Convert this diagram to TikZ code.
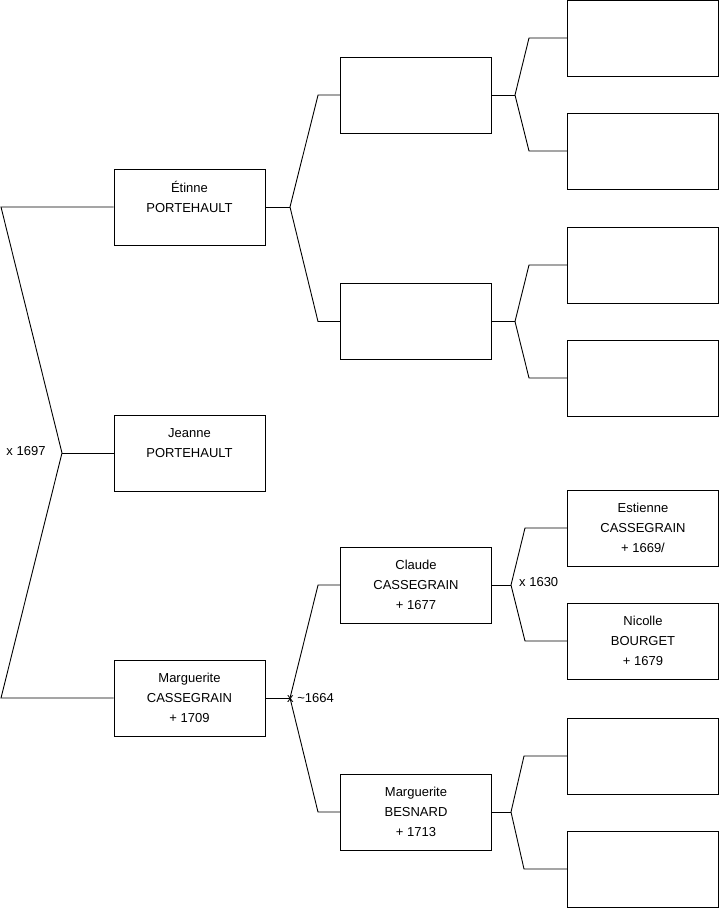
\documentclass[tikz,border=0pt]{standalone}
\usepackage{fontspec}
\setmainfont{Liberation Sans}

\begin{document}
\begin{tikzpicture}[
    x=1pt, y=-1pt,
    person/.style={draw, line width=0.9pt, minimum width=151pt, minimum height=76pt, inner sep=0pt, align=center, font=\fontsize{13}{20}\selectfont},
    edge/.style={line width=0.9pt},
    marriage/.style={font=\fontsize{13}{14}\selectfont, inner sep=0pt}
]
    \useasboundingbox (0,0) rectangle (719,908);

    % First generation
    \node[person] (etinne) at (189.5,207) {Étinne\\PORTEHAULT\\~};
    \node[person] (jeanne) at (189.5,453) {Jeanne\\PORTEHAULT\\~};
    \node[person] (margC) at (189.5,698) {Marguerite\\CASSEGRAIN\\+ 1709};

    % Second generation
    \node[person] (parA) at (416,95) {};
    \node[person] (parB) at (416,321.5) {};
    \node[person] (claude) at (416,585) {Claude\\CASSEGRAIN\\+ 1677};
    \node[person] (margB) at (416,812) {Marguerite\\BESNARD\\+ 1713};

    % Third generation
    \node[person] (g1) at (643,38) {};
    \node[person] (g2) at (643,151) {};
    \node[person] (g3) at (643,265) {};
    \node[person] (g4) at (643,378) {};
    \node[person] (estienne) at (643,528) {Estienne\\CASSEGRAIN\\+ 1669/};
    \node[person] (nicolle) at (643,641) {Nicolle\\BOURGET\\+ 1679};
    \node[person] (g7) at (643,756) {};
    \node[person] (g8) at (643,869) {};

    % Fork points and bends
    \coordinate (f0) at (62,453);
    \coordinate (r1) at (1,207);
    \coordinate (r2) at (1,698);
    \coordinate (f1) at (290,207);
    \coordinate (f2) at (290,698);
    \coordinate (f3) at (515,95);
    \coordinate (f4) at (515,321.5);
    \coordinate (f5) at (511,585);
    \coordinate (f6) at (511,812);

    % Root fork
    \draw[edge] (etinne.west) -- (r1) -- (f0) -- (r2) -- (margC.west);
    \draw[edge] (f0) -- (jeanne.west);

    % Forks towards the second generation
    \draw[edge] (etinne.east) -- (f1);
    \draw[edge] (parA.west) -- ++(-22,0) -- (f1) -- (318,321.5) -- (parB.west);
    \draw[edge] (margC.east) -- (f2);
    \draw[edge] (claude.west) -- ++(-22,0) -- (f2) -- (318,812) -- (margB.west);

    % Forks towards the third generation
    \draw[edge] (parA.east) -- (f3);
    \draw[edge] (g1.west) -- (529,38) -- (f3) -- (529,151) -- (g2.west);
    \draw[edge] (parB.east) -- (f4);
    \draw[edge] (g3.west) -- (529,265) -- (f4) -- (529,378) -- (g4.west);
    \draw[edge] (claude.east) -- (f5);
    \draw[edge] (estienne.west) -- (525,528) -- (f5) -- (525,641) -- (nicolle.west);
    \draw[edge] (margB.east) -- (f6);
    \draw[edge] (g7.west) -- (524,756) -- (f6) -- (524,869) -- (g8.west);

    % Marriage dates
    \node[marriage] (m0) at (26,451) {x 1697};
    \node[marriage, anchor=west] (m1) at (287,698) {x \textasciitilde1664};
    \node[marriage, anchor=west] (m2) at (519,582) {x 1630};

\end{tikzpicture}
\end{document}
